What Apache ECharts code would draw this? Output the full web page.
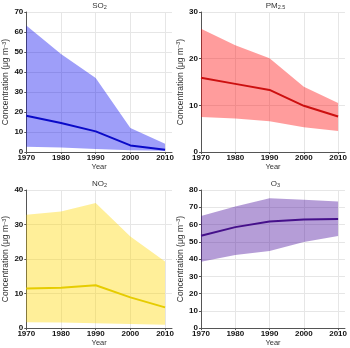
<!DOCTYPE html>
<html>
<head>
<meta charset="utf-8">
<script src="https://cdn.jsdelivr.net/npm/echarts@6/dist/echarts.min.js"></script>
<style>
  html, body { margin: 0; padding: 0; background: #fff; }
  #chart { width: 350px; height: 348px; }
</style>
</head>
<body>
<div id="chart"></div>
<script>
// Decadal concentrations: mean with lower/upper range
const years = [1970, 1980, 1990, 2000, 2010];

const so2Mean  = [18.1, 14.5, 10.3, 3.3, 1.1];
const so2Upper = [63.2, 49.0, 37.0, 12.0, 4.1];
const so2Lower = [2.6, 2.2, 1.5, 0.9, 0.6];

const pm25Mean  = [15.9, 14.6, 13.3, 9.9, 7.6];
const pm25Upper = [26.4, 22.9, 20.1, 14.0, 10.5];
const pm25Lower = [7.5, 7.2, 6.6, 5.3, 4.5];

const no2Mean  = [11.5, 11.7, 12.4, 8.9, 6.0];
const no2Upper = [32.8, 33.8, 36.2, 26.5, 19.3];
const no2Lower = [1.7, 1.6, 1.4, 1.2, 1.0];

const o3Mean  = [53.5, 58.5, 61.7, 62.9, 63.2];
const o3Upper = [65.0, 70.5, 75.2, 74.3, 73.3];
const o3Lower = [38.5, 42.3, 44.6, 49.9, 53.3];

const yMax = [70, 30, 40, 80];
const yStep = [10, 10, 10, 10];

const panels = [
  { name: 'SO', sub: '2', mean: so2Mean, upper: so2Upper, lower: so2Lower,
    line: '#0a0ac8', fill: 'rgba(0,0,240,0.38)' },
  { name: 'PM', sub: '2.5', mean: pm25Mean, upper: pm25Upper, lower: pm25Lower,
    line: '#cc1010', fill: 'rgba(255,0,0,0.39)' },
  { name: 'NO', sub: '2', mean: no2Mean, upper: no2Upper, lower: no2Lower,
    line: '#e6cc00', fill: 'rgba(255,215,0,0.40)' },
  { name: 'O', sub: '3', mean: o3Mean, upper: o3Upper, lower: o3Lower,
    line: '#45108a', fill: 'rgba(70,10,155,0.40)' }
];

const lefts = [25, 201, 25, 201];
const tops = [12, 12, 190, 190];
const W = 147, H = 140;

const chart = echarts.init(document.getElementById('chart'), null, { renderer: 'canvas' });

const grid = [], xAxis = [], yAxis = [], title = [], series = [];

panels.forEach((p, i) => {
  grid.push({ left: lefts[i], top: tops[i], width: W, height: H, containLabel: false });

  title.push({
    text: '{a|' + p.name + '}{s|' + p.sub + '}',
    left: lefts[i] + W / 2 - 4, top: tops[i] - 16, textAlign: 'center',
    textStyle: {
      fontWeight: 'normal',
      rich: {
        a: { fontFamily: 'Liberation Sans', fontWeight: 'normal', fontSize: 8, color: '#333', verticalAlign: 'bottom' },
        s: { fontFamily: 'Liberation Sans', fontWeight: 'normal', fontSize: 5.5, color: '#333', verticalAlign: 'bottom', padding: [3, 0, 0, 0] }
      }
    }
  });

  xAxis.push({
    gridIndex: i, type: 'value', min: 1970, max: 2012,
    name: 'Year', nameLocation: 'middle', nameGap: 10,
    nameTextStyle: { fontFamily: 'Liberation Sans', fontSize: 7.5, color: '#333' },
    axisLine: { lineStyle: { color: '#555', width: 1 } },
    axisTick: { length: 2, lineStyle: { color: '#555' }, customValues: years },
    axisLabel: {
      customValues: years, margin: 2, formatter: v => String(v),
      fontFamily: 'Liberation Sans', fontWeight: 'bold', fontSize: 8, color: '#111'
    },
    splitLine: { show: true, lineStyle: { color: '#e6e6e6', width: 1 } }
  });

  yAxis.push({
    gridIndex: i, type: 'value', min: 0, max: yMax[i], interval: yStep[i],
    name: '{a|Concentration (μg m}{sup|−3}{a|)}',
    nameLocation: 'middle', nameGap: 14, nameRotate: 90,
    nameTextStyle: {
      rich: {
        a: { fontFamily: 'Liberation Sans', fontSize: 8.5, color: '#333' },
        sup: { fontFamily: 'Liberation Sans', fontSize: 5.5, color: '#333', verticalAlign: 'top', padding: [0, 0, 4, 0] }
      }
    },
    axisLine: { show: true, lineStyle: { color: '#555', width: 1 } },
    axisTick: { show: true, length: 2, lineStyle: { color: '#555' } },
    axisLabel: { margin: 3, fontFamily: 'Liberation Sans', fontWeight: 'bold', fontSize: 8, color: '#111' },
    splitLine: { show: true, lineStyle: { color: '#e6e6e6', width: 1 } }
  });

  // Range band drawn as a polygon through the axes' coordinate system
  series.push({
    type: 'custom', xAxisIndex: i, yAxisIndex: i,
    data: years.map((y, k) => [y, p.upper[k], p.lower[k]]),
    encode: { x: 0, y: [1, 2] },
    silent: true,
    renderItem: function (params, api) {
      if (params.dataIndex !== 0) return null;
      const pts = [];
      for (let k = 0; k < years.length; k++) pts.push(api.coord([years[k], p.upper[k]]));
      for (let k = years.length - 1; k >= 0; k--) pts.push(api.coord([years[k], p.lower[k]]));
      return { type: 'polygon', shape: { points: pts }, style: { fill: p.fill } };
    },
    z: 2
  });

  series.push({
    type: 'line', xAxisIndex: i, yAxisIndex: i,
    data: years.map((y, k) => [y, p.mean[k]]),
    showSymbol: false, symbol: 'none',
    lineStyle: { color: p.line, width: 2 },
    z: 3
  });
});

chart.setOption({
  animation: false,
  backgroundColor: '#fff',
  title, grid, xAxis, yAxis, series
});
</script>
</body>
</html>
